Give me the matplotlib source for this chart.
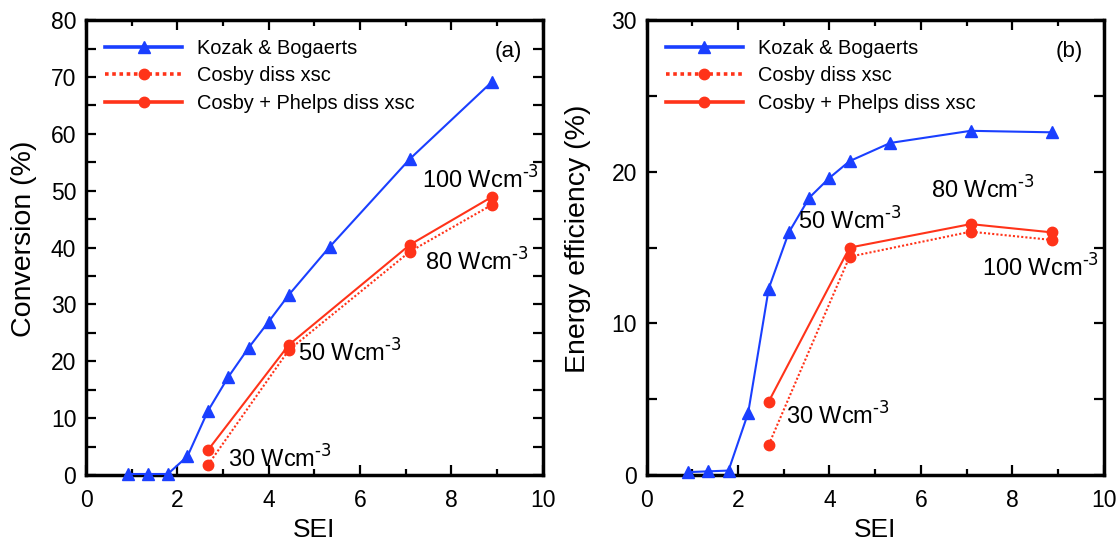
import matplotlib
matplotlib.use("Agg")
import matplotlib.pyplot as plt
from matplotlib.ticker import MultipleLocator

plt.rcParams['font.family'] = ['Liberation Sans', 'DejaVu Sans']

sei_kozak = [0.91, 1.35, 1.79, 2.22, 2.67, 3.11, 3.56, 4.0, 4.44, 5.33, 7.09, 8.88]
conv_kozak = [0.2, 0.2, 0.2, 3.3, 11.3, 17.2, 22.4, 27.0, 31.7, 40.1, 55.6, 69.1]
eff_kozak = [0.2, 0.25, 0.3, 4.1, 12.3, 16.0, 18.3, 19.6, 20.7, 21.9, 22.7, 22.6]

sei_cosby = [2.67, 4.44, 7.09, 8.88]
conv_cosby = [1.8, 22.0, 39.3, 47.5]
conv_cosby_phelps = [4.4, 22.9, 40.5, 48.9]
eff_cosby = [2.0, 14.4, 16.05, 15.5]
eff_cosby_phelps = [4.85, 15.0, 16.55, 16.0]

power_labels = [r"30 Wcm$^{\text{-3}}$", r"50 Wcm$^{\text{-3}}$",
                r"80 Wcm$^{\text{-3}}$", r"100 Wcm$^{\text{-3}}$"]

blue = '#1a3fff'
red = '#ff3319'

fig = plt.figure(figsize=(11.17, 5.43), dpi=100)
ax1 = fig.add_axes([0.077, 0.125, 0.409, 0.838])
ax2 = fig.add_axes([0.579, 0.125, 0.409, 0.838])


def draw(ax, yk, yc, ycp):
    ax.plot(sei_kozak, yk, color=blue, lw=1.5, marker='^', ms=8.5, label='Kozak & Bogaerts', clip_on=False, zorder=3)
    ax.plot(sei_cosby, yc, color=red, lw=1.5, ls=(0, (1, 1)), marker='o', ms=7.5, label='Cosby diss xsc', clip_on=False, zorder=3)
    ax.plot(sei_cosby, ycp, color=red, lw=1.5, marker='o', ms=7.5, label='Cosby + Phelps diss xsc', clip_on=False, zorder=3)
    leg = ax.legend(loc='upper left', frameon=False, fontsize=14.4, handlelength=3.85,
                    handletextpad=0.75, labelspacing=0.42, borderaxespad=0.55, borderpad=0.4)
    for ln in leg.get_lines():
        ln.set_linewidth(2.6)
    ax.set_xlim(0, 10)
    ax.xaxis.set_major_locator(MultipleLocator(2))
    ax.xaxis.set_minor_locator(MultipleLocator(1))
    ax.yaxis.set_minor_locator(MultipleLocator(5))
    ax.tick_params(which='both', direction='in', top=True, right=True, labelsize=16.5, width=1.6)
    ax.tick_params(axis='x', which='major', length=7, pad=10)
    ax.tick_params(axis='x', which='minor', length=4.5)
    ax.tick_params(axis='y', which='both', length=7, pad=7)
    for s in ax.spines.values():
        s.set_linewidth(2.5)
    ax.set_xlabel('SEI', fontsize=19)
    ax.xaxis.label.set_va('center')
    ax.xaxis.set_label_coords(0.5, -0.12)


draw(ax1, conv_kozak, conv_cosby, conv_cosby_phelps)
ax1.set_ylim(0, 80)
ax1.yaxis.set_major_locator(MultipleLocator(10))
ax1.set_ylabel('Conversion (%)', fontsize=20.5)
ax1.yaxis.label.set_va('center')
ax1.yaxis.set_label_coords(-0.136, 0.52)
ax1.text(0.955, 0.955, '(a)', transform=ax1.transAxes, ha='right', va='top', fontsize=16)
ax1.text(3.10, 1.4, power_labels[0], fontsize=17)
ax1.text(4.63, 20.0, power_labels[1], fontsize=17)
ax1.text(7.43, 36.0, power_labels[2], fontsize=17)
ax1.text(7.35, 50.4, power_labels[3], fontsize=17)

draw(ax2, eff_kozak, eff_cosby, eff_cosby_phelps)
ax2.set_ylim(0, 30)
ax2.yaxis.set_major_locator(MultipleLocator(10))
ax2.set_ylabel('Energy efficiency (%)', fontsize=20.5)
ax2.yaxis.label.set_va('center')
ax2.yaxis.set_label_coords(-0.151, 0.52)
ax2.text(0.955, 0.955, '(b)', transform=ax2.transAxes, ha='right', va='top', fontsize=16)
ax2.text(3.05, 3.3, power_labels[0], fontsize=17)
ax2.text(3.32, 16.2, power_labels[1], fontsize=17)
ax2.text(6.22, 18.2, power_labels[2], fontsize=17)
ax2.text(7.33, 13.1, power_labels[3], fontsize=17)

fig.savefig('out.png', dpi=100)
